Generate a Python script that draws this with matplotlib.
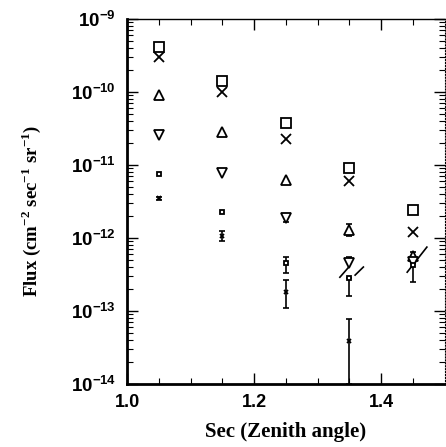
import numpy as np
import matplotlib
matplotlib.use("Agg")
import matplotlib.pyplot as plt
from matplotlib.ticker import FixedLocator, LogLocator, NullFormatter, FuncFormatter

plt.rcParams["mathtext.fontset"] = "custom"
plt.rcParams["mathtext.rm"] = "Liberation Serif:bold"
plt.rcParams["mathtext.sf"] = "Liberation Sans:bold"

# sec(zenith angle) bins
sec_z = [1.05, 1.15, 1.25, 1.35, 1.45]

# flux per series (cm^-2 s^-1 sr^-1)
flux_big_square = [4.1e-10, 1.4e-10, 3.8e-11, 9.1e-12, 2.4e-12]
flux_big_cross = [3.0e-10, 1.0e-10, 2.3e-11, 6.0e-12, 1.2e-12]
flux_tri_up = [9.1e-11, 2.8e-11, 6.2e-12, 1.3e-12, 5.6e-13]
flux_tri_down = [2.6e-11, 7.8e-12, 1.9e-12, 4.6e-13, 4.7e-13]
flux_small_square = [7.6e-12, 2.3e-12, 4.6e-13, 2.8e-13, 4.3e-13]
flux_small_cross = [3.5e-12, 1.07e-12, 1.8e-13, 3.9e-14, np.nan]

# vertical error bars: (x, low, high)
err_x = [1.05, 1.15, 1.25, 1.25, 1.25, 1.35, 1.35, 1.35, 1.35, 1.45]
err_lo = [3.3e-12, 9.1e-13, 1.66e-12, 3.3e-13, 1.1e-13, 1.06e-12, 4.6e-13, 1.6e-13, 1e-14, 2.5e-13]
err_hi = [3.7e-12, 1.25e-12, 2.13e-12, 5.5e-13, 2.66e-13, 1.56e-12, 5.5e-13, 2.8e-13, 7.8e-14, 6.4e-13]

# slanted error bars: (x0, y0) -> (x1, y1)
slant_x0 = [1.335, 1.359, 1.441]
slant_y0 = [2.9e-13, 3.1e-13, 3.4e-13]
slant_x1 = [1.348, 1.372, 1.472]
slant_y1 = [3.9e-13, 4.0e-13, 7.5e-13]

y_decades = [1e-14, 1e-13, 1e-12, 1e-11, 1e-10, 1e-9]

fig = plt.figure(figsize=(4.46, 4.47), dpi=100)
ax = fig.add_axes([0.285, 0.141, 0.712, 0.8165])

# error bars
ax.vlines(err_x, err_lo, err_hi, color="black", lw=1.2)
ax.plot(err_x, err_lo, "_", color="black", ms=5, mew=1.2)
ax.plot(err_x, err_hi, "_", color="black", ms=5, mew=1.2)
for x0, y0, x1, y1 in zip(slant_x0, slant_y0, slant_x1, slant_y1):
    ax.plot([x0, x1], [y0, y1], color="black", lw=1.2)

mk = dict(color="black", ls="none", mfc="white", mew=1.3)
ax.plot(sec_z, flux_big_square, marker="s", ms=7.0, **mk)
ax.plot(sec_z, flux_big_cross, marker="x", ms=6.5, **mk)
ax.plot(sec_z, flux_tri_up, marker="^", ms=6.5, **mk)
ax.plot(sec_z, flux_tri_down, marker="v", ms=7.0, **mk)
ax.plot(sec_z, flux_small_square, marker="s", ms=3.5, **mk)
ax.plot(sec_z, flux_small_cross, marker="x", ms=3.5, **mk)

ax.set_yscale("log")
ax.set_xlim(1.0, 1.5)
ax.set_ylim(1e-14, 1e-9)

ax.xaxis.set_major_locator(FixedLocator([1.0, 1.2, 1.4]))
ax.xaxis.set_minor_locator(FixedLocator(np.arange(1.0, 1.5, 0.05)))
ax.xaxis.set_major_formatter(FuncFormatter(lambda v, p: f"{v:.1f}"))
ax.xaxis.set_minor_formatter(NullFormatter())
ax.yaxis.set_major_locator(FixedLocator(y_decades))
ax.yaxis.set_minor_locator(LogLocator(base=10, subs=np.arange(2, 10), numticks=20))
ax.yaxis.set_minor_formatter(NullFormatter())
ax.yaxis.set_major_formatter(
    FuncFormatter(lambda v, p: r"$\mathsf{10^{%d}}$" % int(round(np.log10(v)))))

ax.tick_params(which="both", direction="in", top=True, right=True, color="black")
ax.tick_params(which="major", length=8, width=1.0)
ax.tick_params(which="minor", length=4, width=0.8)
ax.tick_params(axis="x", labelsize=13, pad=7)
ax.tick_params(axis="y", labelsize=13.5, pad=8)
for lab in ax.get_xticklabels():
    lab.set_fontfamily("Liberation Sans")
    lab.set_fontweight("bold")

ax.spines["left"].set_linewidth(2.0)
ax.spines["bottom"].set_linewidth(2.0)
ax.spines["top"].set_linewidth(1.0)
ax.spines["right"].set_linewidth(0.8)
ax.spines["right"].set_linestyle(":")

ax.set_xlabel("Sec (Zenith angle)", fontsize=15, fontfamily="Liberation Serif",
              fontweight="bold", labelpad=8)
ax.set_ylabel(r"Flux (cm$^{-2}$ sec$^{-1}$ sr$^{-1}$)", fontsize=13.5,
              fontfamily="Liberation Serif", fontweight="bold")
ax.yaxis.set_label_coords(-0.265, 0.475)

fig.savefig("out.png", dpi=100)
